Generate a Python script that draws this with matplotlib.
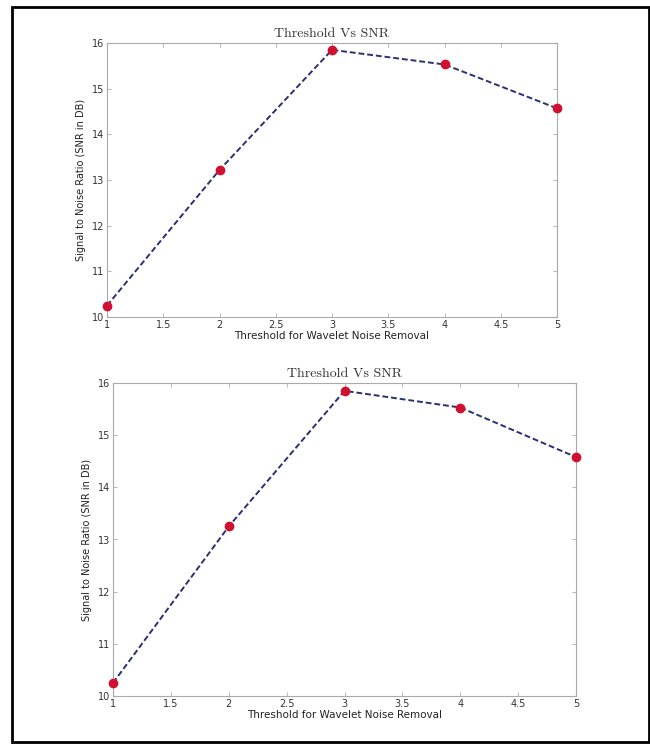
import matplotlib
matplotlib.use("Agg")
import matplotlib.pyplot as plt
from matplotlib.patches import Rectangle

thresholds = [1, 2, 3, 4, 5]
snr_top = [10.25, 13.22, 15.85, 15.53, 14.57]
snr_bottom = [10.25, 13.25, 15.85, 15.53, 14.58]
x_ticks = [1, 1.5, 2, 2.5, 3, 3.5, 4, 4.5, 5]
y_ticks = [10, 11, 12, 13, 14, 15, 16]

fig = plt.figure(figsize=(6.5, 7.44), dpi=100)

# outer frame
fig.patches.append(Rectangle((12 / 650, 2 / 744), 637 / 650, 735 / 744,
                             transform=fig.transFigure, fill=False,
                             edgecolor="black", linewidth=2))


def draw(ax, y):
    ax.plot(thresholds, y, color="#2a3070", linestyle="--", linewidth=1.4,
            dashes=(3, 1.5), zorder=2)
    ax.plot(thresholds, y, color="#d01030", marker="o", markersize=6,
            linestyle="none", zorder=3, clip_on=False)
    ax.set_xlim(1, 5)
    ax.set_ylim(10, 16)
    ax.set_xticks(x_ticks)
    ax.set_xticklabels(["1", "1.5", "2", "2.5", "3", "3.5", "4", "4.5", "5"])
    ax.set_yticks(y_ticks)
    ax.tick_params(direction="in", top=True, right=True, labelsize=7,
                   color="#bbbbbb", labelcolor="#333333", length=3, pad=2)
    for s in ax.spines.values():
        s.set_color("#aaaaaa")
        s.set_linewidth(0.8)
    ax.set_title("Threshold Vs SNR", family="cmr10", fontsize=10,
                 color="#333333", pad=4)
    ax.set_xlabel("Threshold for Wavelet Noise Removal", fontsize=7.5,
                  color="#222222", labelpad=1)
    ax.set_ylabel("Signal to Noise Ratio (SNR in DB)", fontsize=7,
                  color="#222222", labelpad=4)


ax1 = fig.add_axes([107 / 650, 1 - 317 / 744, 450 / 650, 274 / 744])
draw(ax1, snr_top)
ax2 = fig.add_axes([113 / 650, 1 - 696 / 744, 463 / 650, 313 / 744])
draw(ax2, snr_bottom)

fig.savefig("out.png", dpi=100)
